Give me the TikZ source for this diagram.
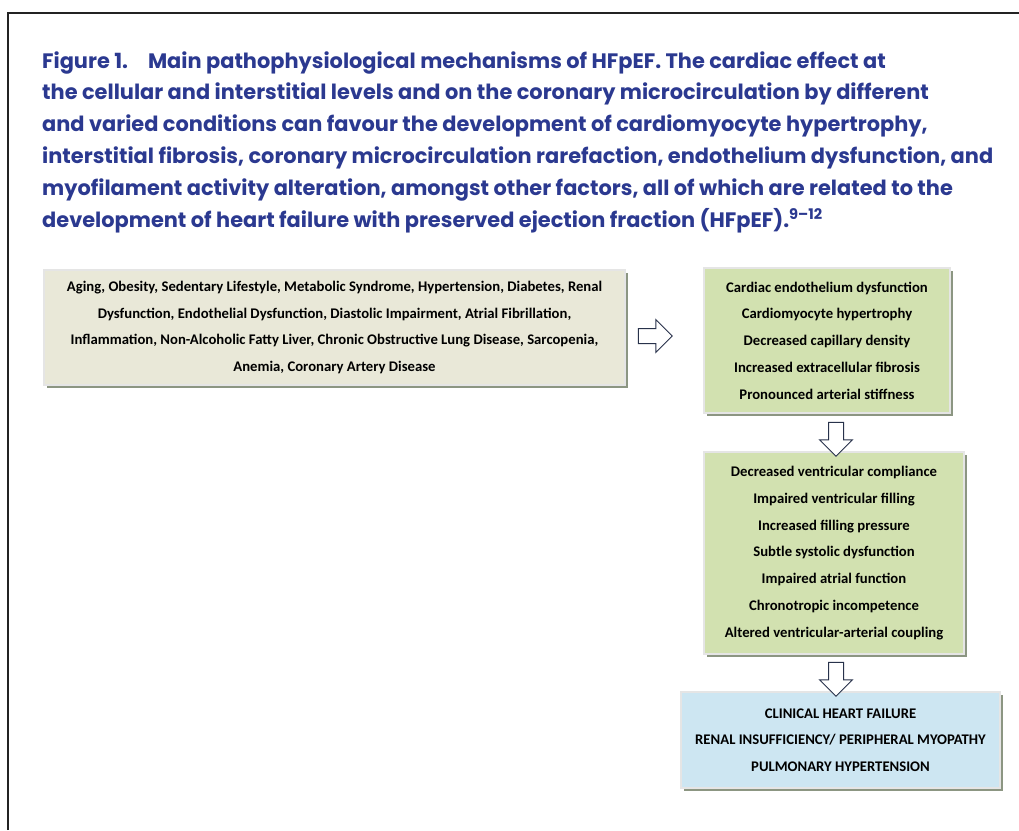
\documentclass[tikz,border=0pt]{standalone}
\usepackage{fontspec}
\setmainfont{Carlito}
\newfontfamily\titlefont{Poppins}
\usetikzlibrary{positioning,shapes.arrows,shadows}

\definecolor{titleblue}{RGB}{43,57,144}
\definecolor{tanfill}{RGB}{233,232,216}
\definecolor{greenfill}{RGB}{210,225,176}
\definecolor{bluefill}{RGB}{205,230,242}
\definecolor{shadowgray}{RGB}{140,150,130}
\definecolor{arrowline}{RGB}{40,50,75}
\definecolor{framegray}{RGB}{35,35,35}

\tikzset{
  factorbox/.style={draw=white!90!black, line width=1.5pt, align=center,
    inner sep=0pt, font=\bfseries\fontsize{14.7}{26.8}\selectfont,
    drop shadow={shadow xshift=3pt, shadow yshift=-3pt, fill=shadowgray, opacity=1}},
  hollowarrow/.style={single arrow, draw=arrowline, fill=white, line width=1pt,
    inner sep=7pt, single arrow head extend=9pt, minimum height=34pt},
}

\begin{document}
\begin{tikzpicture}[x=1pt,y=-1pt]
  \useasboundingbox (0,0) rectangle (1019,830);
  \draw[line width=2pt, framegray] (8,830) -- (8,13) -- (1019,13);

  % caption (base = last line)
  \node[anchor=base west, inner sep=0pt, align=left, text=titleblue,
        font=\titlefont\bfseries\fontsize{20.9}{31.8}\selectfont] (caption) at (42,227)
    {Figure 1.\hspace*{20pt}Main pathophysiological mechanisms of HFpEF. The cardiac effect at\\
     the cellular and interstitial levels and on the coronary microcirculation by different\\
     and varied conditions can favour the development of cardiomyocyte hypertrophy,\\
     interstitial fibrosis, coronary microcirculation rarefaction, endothelium dysfunction, and\\
     myofilament activity alteration, amongst other factors, all of which are related to the\\
     development of heart failure with preserved ejection fraction (HFpEF).\textsuperscript{9–12}};

  % boxes
  \node[factorbox, fill=tanfill, minimum width=581pt, minimum height=115pt] (risk) at (334.5,327.5)
    {Aging, Obesity, Sedentary Lifestyle, Metabolic Syndrome, Hypertension, Diabetes, Renal\\
     Dysfunction, Endothelial Dysfunction, Diastolic Impairment, Atrial Fibrillation,\\
     Inflammation, Non-Alcoholic Fatty Liver, Chronic Obstructive Lung Disease, Sarcopenia,\\
     Anemia, Coronary Artery Disease};
  \node[factorbox, fill=greenfill, minimum width=246pt, minimum height=145pt] (cardiac) at (827,340.5)
    {Cardiac endothelium dysfunction\\
     Cardiomyocyte hypertrophy\\
     Decreased capillary density\\
     Increased extracellular fibrosis\\
     Pronounced arterial stiffness};
  \node[factorbox, fill=greenfill, minimum width=260pt, minimum height=202pt] (ventricle) at (834,553)
    {Decreased ventricular compliance\\
     Impaired ventricular filling\\
     Increased filling pressure\\
     Subtle systolic dysfunction\\
     Impaired atrial function\\
     Chronotropic incompetence\\
     Altered ventricular-arterial coupling};
  \node[factorbox, fill=bluefill, minimum width=319pt, minimum height=96pt,
        font=\bfseries\fontsize{14.7}{26.5}\selectfont] (clinical) at (840.5,740)
    {CLINICAL HEART FAILURE\\
     RENAL INSUFFICIENCY/ PERIPHERAL MYOPATHY\\
     PULMONARY HYPERTENSION};

  % block arrows
  \node[hollowarrow, right=12pt of risk, yshift=-8.5pt] (toCardiac) {};
  \node[hollowarrow, shape border rotate=270] (toVentricle) at (836,435.5) {};
  \node[hollowarrow, shape border rotate=270] (toClinical) at (836,675.5) {};
\end{tikzpicture}
\end{document}
